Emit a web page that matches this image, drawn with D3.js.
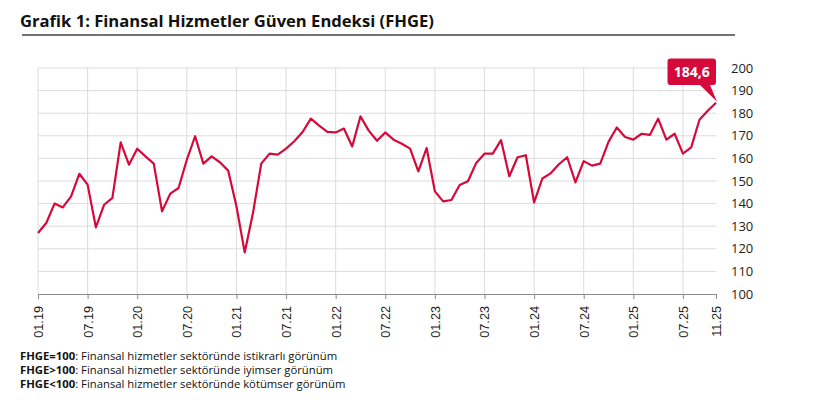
<!DOCTYPE html>
<html><head><meta charset="utf-8">
<script src="https://cdn.jsdelivr.net/npm/d3@7"></script>
<style>body{margin:0;background:#fff}svg{display:block}</style>
</head><body>
<script>
const startYear = 2019, startMonth = 1;
const values = [
 127.0,131.4,140.0,138.3,143.2,153.2,148.4,129.5,139.5,142.5,167.1,157.2,
 164.3,160.9,157.7,136.6,144.4,146.9,159.4,169.8,157.7,160.9,158.3,154.6,
 138.8,118.4,135.8,157.7,162.1,161.7,164.3,167.6,171.7,177.6,174.5,171.7,
 171.5,173.2,165.3,178.6,172.3,167.8,171.5,168.3,166.5,164.3,154.3,164.6,
 145.4,141.0,141.6,148.2,149.9,158.0,162.1,162.1,168.1,152.1,160.5,161.4,
 140.5,151.1,153.4,157.4,160.5,149.4,158.8,156.8,157.7,167.3,173.7,169.5,
 168.3,170.9,170.4,177.6,168.3,170.9,162.1,164.9,177.1,181.1,184.6
];
const months = values.map((v,i)=>{const m=(startMonth-1+i)%12+1, y=startYear+Math.floor((startMonth-1+i)/12);return String(m).padStart(2,'0')+'.'+String(y%100).padStart(2,'0');});
const xTickLabels = ["01.19","07.19","01.20","07.20","01.21","07.21","01.22","07.22","01.23","07.23","01.24","07.24","01.25","07.25","11.25"];
const yTicks = [100,110,120,130,140,150,160,170,180,190,200];
const titleText = "Grafik 1: Finansal Hizmetler Güven Endeksi (FHGE)";
const notes = [["FHGE=100",": Finansal hizmetler sektöründe istikrarlı görünüm"],["FHGE>100",": Finansal hizmetler sektöründe iyimser görünüm"],["FHGE<100",": Finansal hizmetler sektöründe kötümser görünüm"]];
const lastLabel = "184,6";

const W=816,H=402, red="#d50a3a";
const svg=d3.select("body").append("svg").attr("width",W).attr("height",H);
const x=d3.scaleLinear().domain([0,values.length-1]).range([38,716]);
const y=d3.scaleLinear().domain([100,200]).range([294,68]);

svg.append("text").attr("x",20).attr("y",26.5).attr("font-family","Open Sans").attr("font-weight",700).attr("font-size",16.6).attr("fill","#111").text(titleText);
svg.append("line").attr("x1",22).attr("x2",735).attr("y1",35).attr("y2",35).attr("stroke","#444").attr("stroke-width",1.5);

// grid
svg.append("g").selectAll("line").data(yTicks.slice(1)).join("line")
 .attr("x1",38).attr("x2",716.5).attr("y1",d=>y(d)).attr("y2",d=>y(d)).attr("stroke","#dcdcdc").attr("stroke-width",1);
const tickIdx = xTickLabels.map(l=>months.indexOf(l));
svg.append("g").selectAll("line").data(tickIdx.filter(i=>i<values.length-1)).join("line")
 .attr("x1",d=>x(d)).attr("x2",d=>x(d)).attr("y1",68).attr("y2",294).attr("stroke","#dcdcdc").attr("stroke-width",1);

// x axis
const xAxis = d3.axisBottom(x).tickValues(tickIdx).tickFormat(i=>months[i]).tickSize(5).tickSizeOuter(0);
const gx = svg.append("g").attr("transform","translate(0,294)").call(xAxis);
gx.select(".domain").attr("stroke","#8a8a8a");
gx.selectAll(".tick line").attr("stroke","#8a8a8a");
gx.selectAll(".tick text").attr("font-family","Liberation Sans").attr("font-size",12.7).attr("fill","#222")
 .attr("transform","rotate(-90)").attr("text-anchor","end").attr("x",-12).attr("y",0).attr("dy","0.35em");

// y axis right
const yAxis = d3.axisRight(y).tickValues(yTicks).tickSize(0);
const gy = svg.append("g").attr("transform","translate(731,0)").call(yAxis);
gy.select(".domain").remove();
gy.selectAll(".tick text").attr("font-family","Open Sans").attr("font-size",13).attr("fill","#222").attr("x",0).attr("text-anchor","start");

// line
svg.append("path").datum(values).attr("fill","none").attr("stroke",red).attr("stroke-width",2.2).attr("stroke-linejoin","round")
 .attr("d",d3.line().x((d,i)=>x(i)).y(d=>y(d)));

// annotation
const li=values.length-1, px=x(li), py=y(values[li]);
const bx0=667.5,bx1=716,by0=58.5,by1=85;
svg.append("path").attr("fill",red)
 .attr("d",`M${bx0+3},${by0} H${bx1-3} Q${bx1},${by0} ${bx1},${by0+3} V${by1-3} Q${bx1},${by1} ${bx1-3},${by1} H${710} L${px+1},${py-1} L${700},${by1} H${bx0+3} Q${bx0},${by1} ${bx0},${by1-3} V${by0+3} Q${bx0},${by0} ${bx0+3},${by0} Z`);
svg.append("text").attr("x",(bx0+bx1)/2).attr("y",77).attr("text-anchor","middle").attr("font-family","Open Sans").attr("font-weight",700).attr("font-size",14).attr("fill","#fff").text(lastLabel);

// notes
const gn=svg.append("g");
notes.forEach((n,k)=>{
 const t=gn.append("text").attr("x",20).attr("y",359.5+k*14.2).attr("font-family","Open Sans").attr("font-size",11.3).attr("fill","#111");
 t.append("tspan").attr("font-weight",700).text(n[0]);
 t.append("tspan").text(n[1]);
});
</script>
</body></html>
